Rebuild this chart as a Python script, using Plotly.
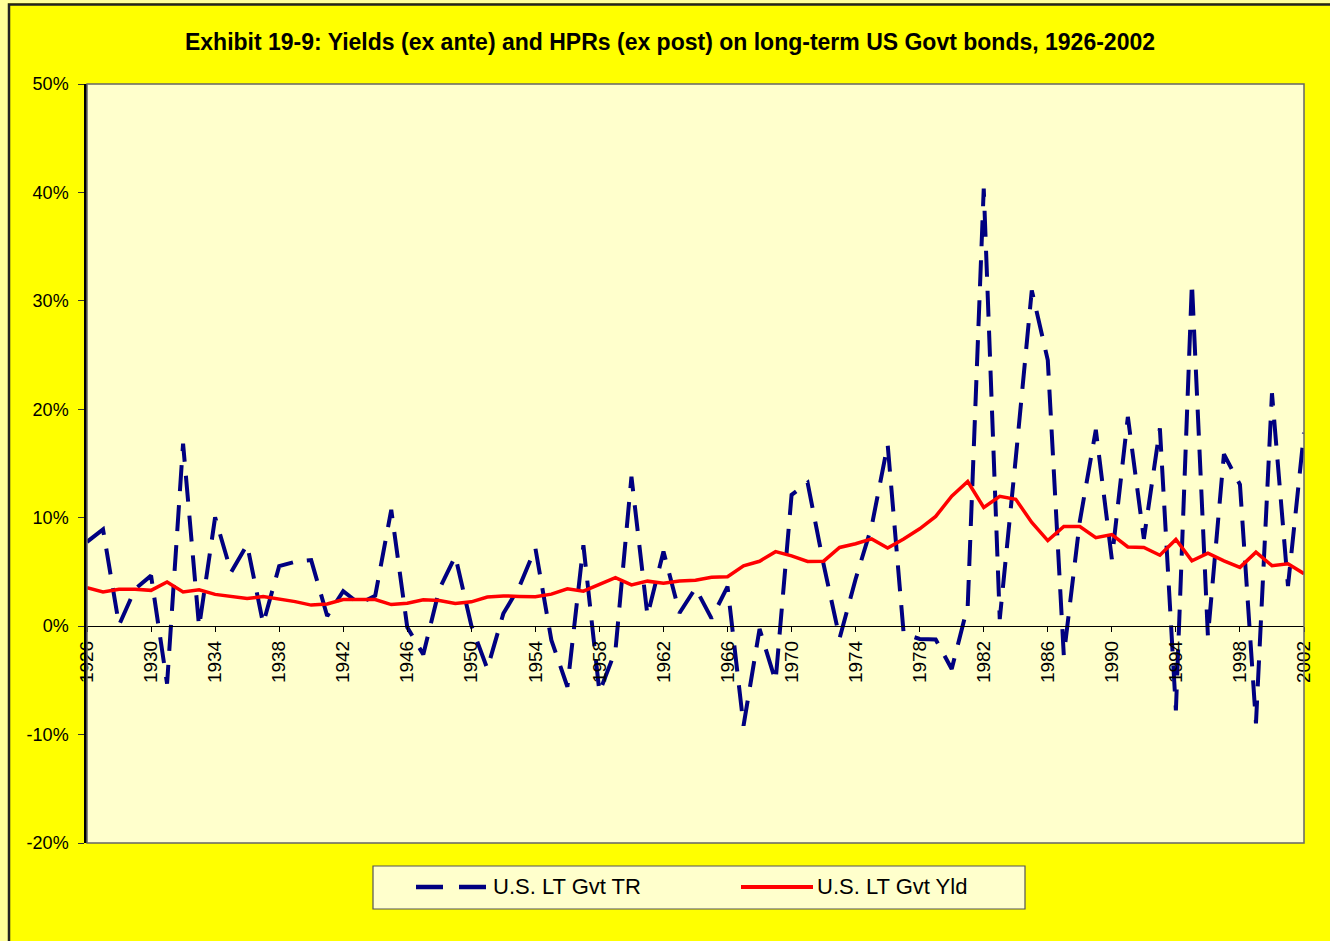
import plotly.graph_objects as go

years = list(range(1926, 2003))
tr = [7.77, 8.93, 0.10, 3.42, 4.66, -5.31, 16.84, -0.07, 10.03, 4.98,
      7.52, 0.23, 5.53, 5.94, 6.09, 0.93, 3.22, 2.08, 2.81, 10.73,
      -0.10, -2.62, 3.40, 6.45, 0.06, -3.93, 1.16, 3.64, 7.19, -1.29,
      -5.59, 7.46, -6.09, -2.26, 13.78, 0.97, 6.89, 1.21, 3.51, 0.71,
      3.65, -9.18, -0.26, -5.07, 12.11, 13.23, 5.69, -1.11, 4.35, 9.20,
      16.75, -0.69, -1.18, -1.23, -3.95, 1.86, 40.36, 0.65, 15.48, 30.97,
      24.53, -2.71, 9.67, 18.11, 6.18, 19.30, 8.05, 18.24, -7.77, 31.67,
      -0.93, 15.85, 13.06, -8.96, 21.48, 3.70, 17.84]
yld = [3.54, 3.16, 3.40, 3.40, 3.30, 4.07, 3.15, 3.36, 2.93, 2.76,
       2.55, 2.73, 2.52, 2.26, 1.94, 2.04, 2.46, 2.48, 2.46, 1.99,
       2.12, 2.43, 2.37, 2.09, 2.24, 2.69, 2.79, 2.74, 2.72, 2.95,
       3.45, 3.23, 3.82, 4.47, 3.80, 4.15, 3.95, 4.17, 4.23, 4.50,
       4.55, 5.56, 5.98, 6.87, 6.48, 5.97, 5.99, 7.26, 7.60, 8.05,
       7.21, 8.03, 8.98, 10.12, 11.99, 13.34, 10.95, 11.97, 11.70, 9.56,
       7.89, 9.20, 9.18, 8.16, 8.44, 7.30, 7.26, 6.54, 7.99, 6.03,
       6.73, 6.02, 5.42, 6.82, 5.58, 5.75, 4.84]
tick_years = [1926 + 4 * i for i in range(20)]
y_ticks = [-20, -10, 0, 10, 20, 30, 40, 50]
y_ticktext = ["-20%", "-10%", "0%", "10%", "20%", "30%", "40%", "50%"]
series_names = ["U.S. LT Gvt TR", "U.S. LT Gvt Yld"]
title_text = "Exhibit 19-9: Yields (ex ante) and HPRs (ex post) on long-term US Govt bonds, 1926-2002"

W, H = 1330, 941
L, R, T, B = 87, 26, 84, 98
PW, PH = W - L - R, H - T - B
FONT = "Liberation Sans, Arial, sans-serif"
NAVY = "#000080"
RED = "#FF0000"
PALE = "#FFFF99"


def px(x):
    return (x - L) / PW


def py(y):
    return (H - B - y) / PH


fig = go.Figure()
fig.add_trace(go.Scatter(x=years, y=tr, mode="lines", name=series_names[0],
                         line=dict(color=NAVY, width=4, dash="26px,14px")))
fig.add_trace(go.Scatter(x=years, y=yld, mode="lines", name=series_names[1],
                         line=dict(color=RED, width=3.5)))

shapes = [
    # pale strips outside the yellow frame
    dict(type="rect", xref="paper", yref="paper", x0=px(-5), x1=px(8),
         y0=py(H + 5), y1=py(-5), fillcolor=PALE, line=dict(width=0), layer="above"),
    dict(type="rect", xref="paper", yref="paper", x0=px(-5), x1=px(W + 5),
         y0=py(3), y1=py(-5), fillcolor=PALE, line=dict(width=0), layer="above"),
    # frame border (top and left)
    dict(type="rect", xref="paper", yref="paper", x0=px(9), x1=px(W + 10),
         y0=py(H + 10), y1=py(4.5), line=dict(color="#222222", width=2.5), layer="above"),
    # plot area border
    dict(type="rect", xref="paper", yref="paper", x0=0, x1=1, y0=0, y1=1,
         line=dict(color="#666666", width=1.5), layer="above"),
    # legend box
    dict(type="rect", xref="paper", yref="paper", x0=px(373), x1=px(1025),
         y0=py(909), y1=py(866), fillcolor="#FFFFCC",
         line=dict(color="#555555", width=1.2), layer="above"),
    dict(type="line", xref="paper", yref="paper", x0=px(416), x1=px(486),
         y0=py(887), y1=py(887), line=dict(color=NAVY, width=4.5, dash="27px,16px")),
    dict(type="line", xref="paper", yref="paper", x0=px(741), x1=px(813),
         y0=py(887), y1=py(887), line=dict(color=RED, width=4)),
]

annotations = [
    dict(text=series_names[0], xref="paper", yref="paper", x=px(491), y=py(886),
         xanchor="left", yanchor="middle", showarrow=False,
         font=dict(family=FONT, size=22, color="#000000")),
    dict(text=series_names[1], xref="paper", yref="paper", x=px(815), y=py(886),
         xanchor="left", yanchor="middle", showarrow=False,
         font=dict(family=FONT, size=22, color="#000000")),
]

zero_pos = (0 - y_ticks[0]) / (y_ticks[-1] - y_ticks[0])

fig.update_layout(
    width=W, height=H,
    margin=dict(l=L, r=R, t=T, b=B, pad=0),
    paper_bgcolor="#FFFF00",
    plot_bgcolor="#FFFFCC",
    showlegend=False,
    title=dict(text="<b>" + title_text + "</b>", xref="container", yref="container",
               x=670 / W, y=1 - 42 / H, xanchor="center", yanchor="middle",
               font=dict(family=FONT, size=23, color="#000000")),
    font=dict(family=FONT, size=18, color="#000000"),
    xaxis=dict(range=[years[0], years[-1]], tickvals=tick_years,
               ticktext=[str(v) for v in tick_years], tickangle=-90,
               anchor="free", position=zero_pos, showline=True,
               linecolor="#000000", linewidth=1.2, ticks="outside", ticklen=5,
               tickcolor="#000000", tickwidth=1, showgrid=False, zeroline=False,
               ticklabelstandoff=1, tickfont=dict(family=FONT, size=19)),
    xaxis2=dict(range=[years[0], years[-1]], tickvals=tick_years, overlaying="x",
                anchor="free", position=zero_pos, showline=False,
                ticks="inside", ticklen=5, tickcolor="#000000", tickwidth=1,
                showticklabels=False, showgrid=False, zeroline=False),
    yaxis=dict(range=[y_ticks[0], y_ticks[-1]], tickvals=y_ticks, ticktext=y_ticktext,
               showline=True, linecolor="#000000", linewidth=2.5,
               ticks="outside", ticklen=6, tickcolor="#333333",
               showgrid=False, zeroline=False, ticklabelstandoff=6,
               tickfont=dict(family=FONT, size=18)),
    shapes=shapes,
    annotations=annotations,
)

fig.write_html("out.html", config={"displayModeBar": False},
               post_script="document.body.style.margin='0px';"
                           "document.body.style.background='#FFFF99';")
